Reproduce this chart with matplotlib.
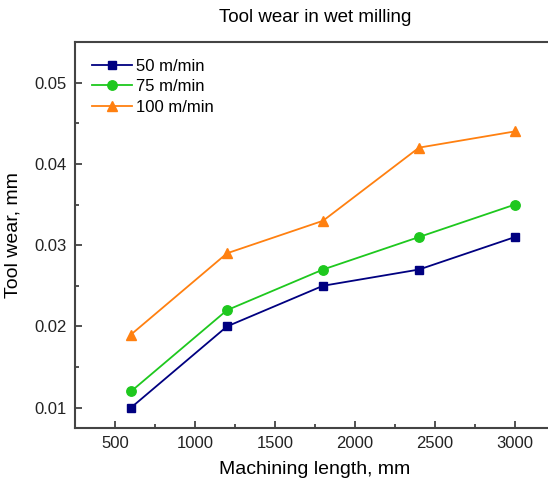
import matplotlib.pyplot as plt
from matplotlib.ticker import MultipleLocator

plt.rcParams['font.family'] = ['Liberation Sans', 'DejaVu Sans']

length = [600, 1200, 1800, 2400, 3000]
wear_50 = [0.010, 0.020, 0.025, 0.027, 0.031]
wear_75 = [0.012, 0.022, 0.027, 0.031, 0.035]
wear_100 = [0.019, 0.029, 0.033, 0.042, 0.044]
labels = ['50 m/min', '75 m/min', '100 m/min']

fig = plt.figure(figsize=(5.48, 4.87), dpi=100)
# axes runs past the right edge, like the cropped original
ax = fig.add_axes([75 / 548, 1 - 428 / 487, 480 / 548, 386 / 487])

ax.plot(length, wear_50, color='#000080', marker='s', markersize=6, lw=1.3, label=labels[0])
ax.plot(length, wear_75, color='#1ec81e', marker='o', markersize=6.8, lw=1.3, label=labels[1])
ax.plot(length, wear_100, color='#ff8010', marker='^', markersize=7.3, lw=1.3, label=labels[2])

ax.set_xlim(250, 3250)
ax.set_ylim(0.0075, 0.055)
ax.xaxis.set_major_locator(MultipleLocator(500))
ax.xaxis.set_minor_locator(MultipleLocator(250))
ax.yaxis.set_major_locator(MultipleLocator(0.01))
ax.yaxis.set_minor_locator(MultipleLocator(0.005))
ax.tick_params(which='both', direction='in', labelsize=12, width=1.2, colors='#333333',
               labelcolor='#222222', top=False, right=False)
ax.tick_params(which='major', length=5, pad=6)
ax.tick_params(which='minor', length=3)
for s in ax.spines.values():
    s.set_linewidth(1.5)
    s.set_color('#444444')

ax.set_xlabel('Machining length, mm', fontsize=14, labelpad=7)
ax.set_ylabel('Tool wear, mm', fontsize=14, labelpad=9)
fig.text(315 / 548, 1 - 18 / 487, 'Tool wear in wet milling', fontsize=13.5, ha='center', va='center')

ax.legend(loc='upper left', frameon=False, fontsize=12, handlelength=2.4,
          bbox_to_anchor=(0.035, 0.957), borderaxespad=0, borderpad=0,
          labelspacing=0.33, handletextpad=0.25)

fig.savefig('out.png', dpi=100)
